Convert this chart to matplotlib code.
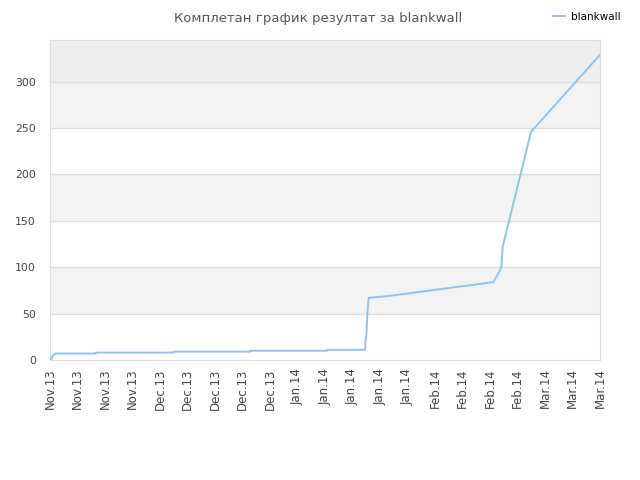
import numpy as np
import matplotlib.pyplot as plt

# days since start of the chart and cumulative score
days = [0.2, 0.8, 1.4, 10.8, 10.9, 29.1, 29.2, 47.3, 47.4, 65.5, 65.6, 74.5,
        74.6, 74.8, 75.0, 75.3, 80, 85, 90, 95, 100, 104.8, 105.4, 106.4, 106.7,
        107.0, 113.7, 130.0]
score = [0, 5, 7, 7, 8, 8, 9, 9, 10, 10, 11, 11,
         22, 29, 49, 67, 69, 72, 75, 78, 81, 84, 89, 97, 101,
         122, 246, 329]

tick_labels = ["Nov.13", "Nov.13", "Nov.13", "Nov.13", "Dec.13", "Dec.13", "Dec.13",
               "Dec.13", "Dec.13", "Jan.14", "Jan.14", "Jan.14", "Jan.14", "Jan.14",
               "Feb.14", "Feb.14", "Feb.14", "Feb.14", "Mar.14", "Mar.14", "Mar.14"]
yticks = [0, 50, 100, 150, 200, 250, 300]

fig = plt.figure(figsize=(6.4, 4.8), dpi=100)
ax = fig.add_axes([0.078, 0.25, 0.8595, 0.6667])

# alternating background bands
ymax = 345
for i, y0 in enumerate(yticks):
    y1 = yticks[i + 1] if i + 1 < len(yticks) else ymax
    if y0 == yticks[-1]:
        col = "#eeeeee"
    elif i % 2 == 1:
        col = "#f3f3f3"
    else:
        col = "#ffffff"
    ax.axhspan(y0, y1, color=col, zorder=0, lw=0)
for y in yticks[1:]:
    ax.axhline(y, color="#dddddd", lw=1, zorder=1)

ax.plot(days, score, color="#92c1f0", lw=1.4, label="blankwall", zorder=3)

ax.set_xlim(0, 130)
ax.set_ylim(0, ymax)
ax.set_xticks(np.linspace(0, 130, len(tick_labels)))
ax.set_xticklabels(tick_labels, rotation=90, fontsize=8.5, color="#444444")
ax.set_yticks(yticks)
ax.set_yticklabels([str(v) for v in yticks], fontsize=7.8, color="#444444")
ax.tick_params(axis="x", length=0, pad=6)
ax.tick_params(axis="y", length=0, pad=10)
for s in ax.spines.values():
    s.set_color("#dddddd")

fig.text(0.497, 0.975, "Комплетан график резултат за blankwall", ha="center", va="top",
         fontsize=9.5, color="#555555")
fig.legend(loc="upper right", bbox_to_anchor=(0.985, 0.995), frameon=False,
           fontsize=7.5, handlelength=1.2, handletextpad=0.6)

fig.savefig("out.png", dpi=100)
